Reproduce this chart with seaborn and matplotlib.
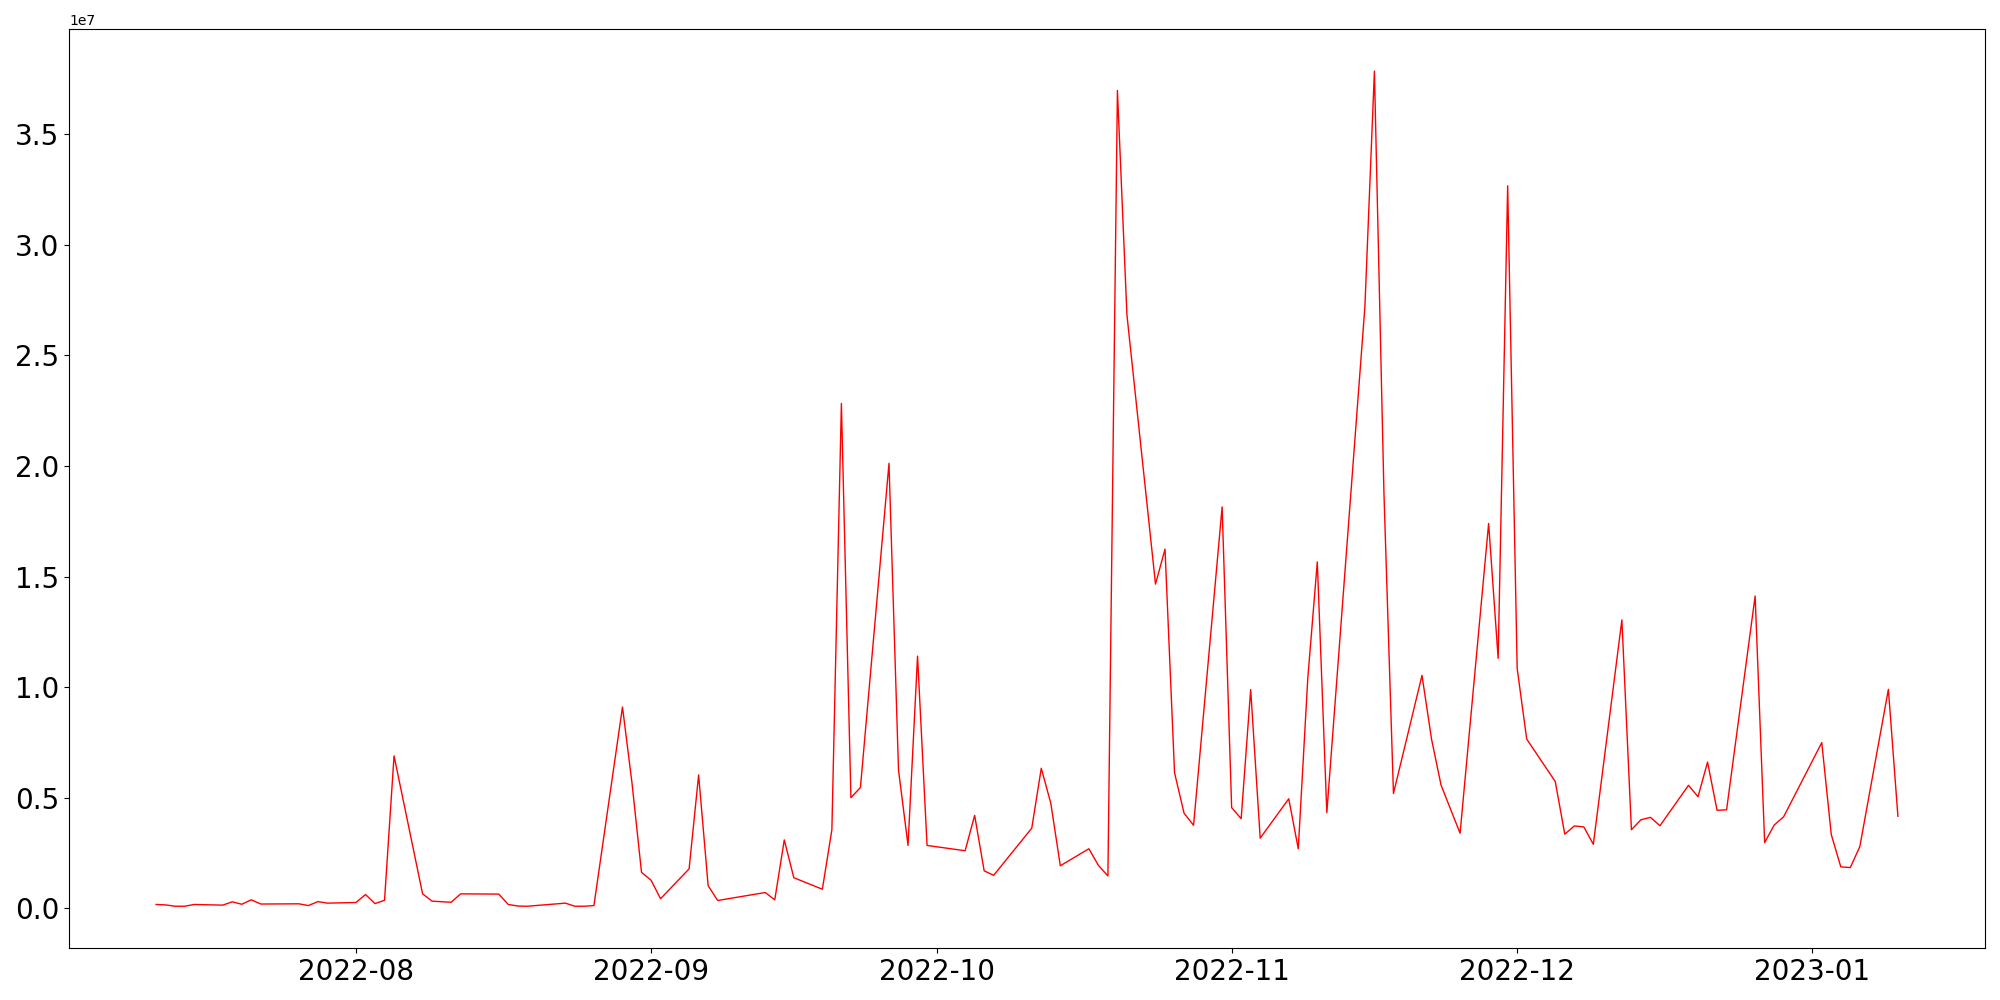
import pandas as pd
import matplotlib
matplotlib.use('Agg')
import matplotlib.pyplot as plt
import seaborn as sns

# trading days and values (values in millions)
dates = [
    '2022-07-11', '2022-07-12', '2022-07-13', '2022-07-14', '2022-07-15',
    '2022-07-18', '2022-07-19', '2022-07-20', '2022-07-21', '2022-07-22',
    '2022-07-26', '2022-07-27', '2022-07-28', '2022-07-29',
    '2022-08-01', '2022-08-02', '2022-08-03', '2022-08-04', '2022-08-05',
    '2022-08-08', '2022-08-09', '2022-08-11', '2022-08-12',
    '2022-08-16', '2022-08-17', '2022-08-18', '2022-08-19',
    '2022-08-23', '2022-08-24', '2022-08-25', '2022-08-26',
    '2022-08-29', '2022-08-30', '2022-08-31', '2022-09-01', '2022-09-02',
    '2022-09-05', '2022-09-06', '2022-09-07', '2022-09-08',
    '2022-09-13', '2022-09-14', '2022-09-15', '2022-09-16',
    '2022-09-19', '2022-09-20', '2022-09-21', '2022-09-22', '2022-09-23',
    '2022-09-26', '2022-09-27', '2022-09-28', '2022-09-29', '2022-09-30',
    '2022-10-04', '2022-10-05', '2022-10-06', '2022-10-07',
    '2022-10-11', '2022-10-12', '2022-10-13', '2022-10-14',
    '2022-10-17', '2022-10-18', '2022-10-19', '2022-10-20', '2022-10-21',
    '2022-10-24', '2022-10-25', '2022-10-26', '2022-10-27', '2022-10-28',
    '2022-10-31', '2022-11-01', '2022-11-02', '2022-11-03', '2022-11-04',
    '2022-11-07', '2022-11-08', '2022-11-09', '2022-11-10', '2022-11-11',
    '2022-11-15', '2022-11-16', '2022-11-17', '2022-11-18',
    '2022-11-21', '2022-11-22', '2022-11-23', '2022-11-25',
    '2022-11-28', '2022-11-29', '2022-11-30', '2022-12-01', '2022-12-02',
    '2022-12-05', '2022-12-06', '2022-12-07', '2022-12-08', '2022-12-09',
    '2022-12-12', '2022-12-13', '2022-12-14', '2022-12-15', '2022-12-16',
    '2022-12-19', '2022-12-20', '2022-12-21', '2022-12-22', '2022-12-23',
    '2022-12-26', '2022-12-27', '2022-12-28', '2022-12-29',
    '2023-01-02', '2023-01-03', '2023-01-04', '2023-01-05', '2023-01-06',
    '2023-01-09', '2023-01-10',
]
volume_m = [
    0.17, 0.15, 0.09, 0.09, 0.17,
    0.14, 0.29, 0.18, 0.38, 0.19,
    0.20, 0.12, 0.30, 0.23,
    0.26, 0.62, 0.21, 0.36, 6.89,
    0.65, 0.32, 0.27, 0.65,
    0.64, 0.17, 0.10, 0.09,
    0.23, 0.09, 0.09, 0.12,
    9.10, 5.66, 1.62, 1.27, 0.43,
    1.78, 6.03, 1.02, 0.35,
    0.71, 0.38, 3.09, 1.38,
    0.86, 3.55, 22.83, 5.00, 5.46,
    20.12, 6.25, 2.84, 11.40, 2.84,
    2.60, 4.20, 1.69, 1.49,
    3.62, 6.33, 4.75, 1.92,
    2.69, 1.94, 1.46, 36.98, 26.83,
    14.66, 16.24, 6.13, 4.30, 3.75,
    18.15, 4.55, 4.05, 9.89, 3.17,
    4.95, 2.69, 10.40, 15.66, 4.32,
    27.20, 37.86, 18.80, 5.19,
    10.53, 7.65, 5.57, 3.39,
    17.40, 11.30, 32.67, 10.84, 7.65,
    5.73, 3.35, 3.72, 3.68, 2.89,
    13.04, 3.55, 4.00, 4.11, 3.73,
    5.56, 5.04, 6.61, 4.43, 4.45,
    14.12, 2.97, 3.76, 4.14,
    7.49, 3.33, 1.87, 1.84, 2.79,
    9.90, 4.16,
]

df = pd.DataFrame({'date': pd.to_datetime(dates),
                   'volume': [v * 1e6 for v in volume_m]})

fig, ax = plt.subplots(figsize=(20, 10), dpi=100)
sns.lineplot(data=df, x='date', y='volume', color='red', linewidth=1.0, ax=ax)
ax.set_xlabel('')
ax.set_ylabel('')
plt.xticks(fontsize=20)
plt.yticks(fontsize=20)
fig.subplots_adjust(left=0.0345, right=0.9925, bottom=0.052, top=0.9707)
fig.savefig('out.png')
